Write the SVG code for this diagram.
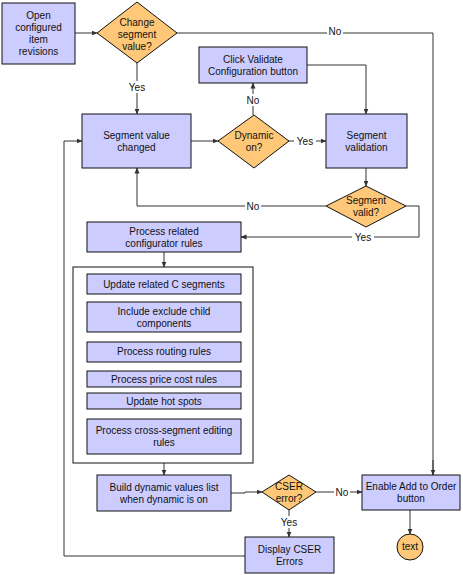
<svg xmlns="http://www.w3.org/2000/svg" width="463" height="575" viewBox="0 0 463 575">
<defs>
<marker id="ah" markerWidth="6" markerHeight="6" refX="5.5" refY="3" orient="auto" markerUnits="userSpaceOnUse">
<path d="M0,0.5 L6,3 L0,5.5 z" fill="#333"/>
</marker>
</defs>
<style>
.box{fill:#ccccff;stroke:#111;stroke-width:1}
.dia{fill:#fec878;stroke:#111;stroke-width:1}
.cont{fill:#fff;stroke:#111;stroke-width:1}
.c{fill:none;stroke:#333;stroke-width:1}
.a{marker-end:url(#ah)}
text{font-family:"Liberation Sans",Arial,sans-serif;font-size:10px;fill:#111;text-anchor:middle}
.bg{fill:#fff}
</style>
<rect width="463" height="575" fill="#fff"/>
<g id="connectors">
<path class="c a" d="M75,33 H97"/>
<path class="c" d="M177,33 H433 V475"/>
<path class="c a" d="M433,460 V475"/>
<path class="c a" d="M137,63 V114"/>
<path class="c a" d="M191,141 H218"/>
<path class="c a" d="M253,115 V83"/>
<path class="c a" d="M289,141 H326"/>
<path class="c a" d="M307,65 H366 V114"/>
<path class="c a" d="M366,168 V186"/>
<path class="c a" d="M326,206 H137 V168"/>
<path class="c a" d="M406,206 H419 V237 H241"/>
<path class="c a" d="M164,252 V267"/>
<path class="c a" d="M164,463 V475"/>
<path class="c a" d="M231,493 H245 V492 H262"/>
<path class="c a" d="M316,492 H362"/>
<path class="c a" d="M289,510 V537"/>
<path class="c a" d="M410,510 V534"/>
<path class="c a" d="M245,556 H64 V141 H82"/>
<rect class="bg" x="327" y="26" width="16" height="12"/>
<text x="335" y="35">No</text>
<rect class="bg" x="126" y="81" width="22" height="12"/>
<text x="137" y="91">Yes</text>
<rect class="bg" x="245" y="94" width="16" height="12"/>
<text x="253" y="104">No</text>
<rect class="bg" x="294" y="135" width="22" height="12"/>
<text x="305" y="145">Yes</text>
<rect class="bg" x="245" y="200" width="16" height="12"/>
<text x="253" y="210">No</text>
<rect class="bg" x="352" y="231" width="22" height="12"/>
<text x="363" y="241">Yes</text>
<rect class="bg" x="334" y="486" width="16" height="12"/>
<text x="342" y="496">No</text>
<rect class="bg" x="278" y="516" width="22" height="12"/>
<text x="289" y="526">Yes</text>
</g>
<g id="open">
<rect class="box" x="2" y="3" width="73" height="61"/>
<text x="38.5" y="19">Open</text>
<text x="38.5" y="31">configured</text>
<text x="38.5" y="43">item</text>
<text x="38.5" y="55">revisions</text>
</g>
<g id="change">
<polygon class="dia" points="137,2 177,33 137,63 97,33"/>
<text x="137" y="26">Change</text>
<text x="137" y="38">segment</text>
<text x="137" y="50">value?</text>
</g>
<g id="segchanged">
<rect class="box" x="82" y="114" width="109" height="54"/>
<text x="136.5" y="139">Segment value</text>
<text x="136.5" y="151">changed</text>
</g>
<g id="dynamic">
<polygon class="dia" points="254,115 289,141 254,168 218,141"/>
<text x="254" y="139">Dynamic</text>
<text x="254" y="151">on?</text>
</g>
<g id="clickvalidate">
<rect class="box" x="199" y="47" width="108" height="36"/>
<text x="253" y="63">Click Validate</text>
<text x="253" y="75">Configuration button</text>
</g>
<g id="segvalidation">
<rect class="box" x="326" y="114" width="81" height="54"/>
<text x="366.5" y="139">Segment</text>
<text x="366.5" y="151">validation</text>
</g>
<g id="segvalid">
<polygon class="dia" points="366,186 406,206 366,227 326,206"/>
<text x="366" y="204">Segment</text>
<text x="366" y="216">valid?</text>
</g>
<g id="processrelated">
<rect class="box" x="87" y="222" width="154" height="30"/>
<text x="164" y="235">Process related</text>
<text x="164" y="247">configurator  rules</text>
</g>
<g id="container">
<rect class="cont" x="73" y="267" width="180" height="196"/>
</g>
<g id="updatec">
<rect class="box" x="87" y="274" width="154" height="20"/>
<text x="164" y="288">Update related C segments</text>
</g>
<g id="include">
<rect class="box" x="87" y="302" width="154" height="30"/>
<text x="164" y="315">Include exclude child</text>
<text x="164" y="327">components</text>
</g>
<g id="routing">
<rect class="box" x="87" y="342" width="154" height="20"/>
<text x="164" y="355">Process routing rules</text>
</g>
<g id="price">
<rect class="box" x="87" y="371" width="154" height="16"/>
<text x="164" y="383">Process price cost rules</text>
</g>
<g id="hotspots">
<rect class="box" x="87" y="393" width="154" height="16"/>
<text x="164" y="405">Update hot spots</text>
</g>
<g id="cross">
<rect class="box" x="87" y="419" width="154" height="35"/>
<text x="164" y="434">Process cross-segment editing</text>
<text x="164" y="446">rules</text>
</g>
<g id="build">
<rect class="box" x="97" y="475" width="134" height="36"/>
<text x="164" y="491">Build dynamic values list</text>
<text x="164" y="503">when dynamic is on</text>
</g>
<g id="cser">
<polygon class="dia" points="289,475 316,492 289,510 262,492"/>
<text x="289" y="490">CSER</text>
<text x="289" y="502">error?</text>
</g>
<g id="enable">
<rect class="box" x="362" y="475" width="98" height="35"/>
<text x="411" y="490">Enable Add to Order</text>
<text x="411" y="502">button</text>
</g>
<g id="display">
<rect class="box" x="245" y="537" width="89" height="36"/>
<text x="289.5" y="553">Display CSER</text>
<text x="289.5" y="565">Errors</text>
</g>
<g id="end">
<circle cx="410" cy="547" r="13" fill="#fec878" stroke="#111"/>
<text x="410" y="550">text</text>
</g>
</svg>
